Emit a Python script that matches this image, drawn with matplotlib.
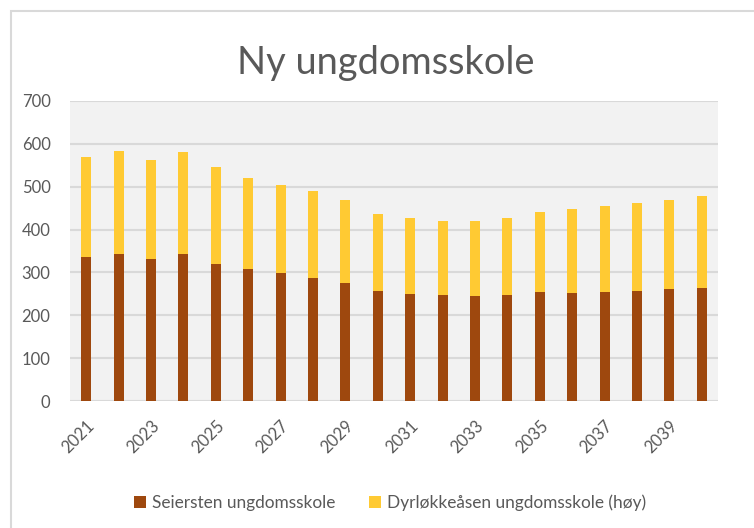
import matplotlib.pyplot as plt
from matplotlib.patches import Rectangle

plt.rcParams['font.family'] = ['Lato', 'DejaVu Sans']

# data
years = list(range(2021, 2041))
seiersten = [336, 343, 331, 343, 319, 307, 298, 286, 275, 256,
             249, 247, 244, 247, 254, 251, 254, 256, 261, 263]
totals = [569, 583, 562, 581, 546, 521, 505, 489, 470, 437,
          427, 421, 420, 428, 441, 447, 456, 463, 470, 479]
dyrlokkeasen = [t - s for t, s in zip(totals, seiersten)]

labels = ['Seiersten ungdomsskole', 'Dyrløkkeåsen ungdomsskole (høy)']
brown = '#9E480E'
yellow = '#FFCA33'
grey_txt = '#595959'
grid_c = '#D9D9D9'

W, H = 754, 528
fig = plt.figure(figsize=(W / 100, H / 100), dpi=100)
fig.patch.set_facecolor('white')

# chart border (only top/left visible in the screenshot)
fig.patches.append(Rectangle((11 / W, -0.1), 1.2, 1 - 11 / H + 0.1,
                             transform=fig.transFigure, fill=False,
                             edgecolor=grid_c, linewidth=1.5))

ax = fig.add_axes([70 / W, (H - 401) / H, 648 / W, 300 / H])
ax.set_facecolor('#F2F2F2')

x = range(len(years))
ax.bar(x, seiersten, width=0.31, color=brown, label=labels[0], zorder=3)
ax.bar(x, dyrlokkeasen, width=0.31, bottom=seiersten, color=yellow,
       label=labels[1], zorder=3)

ax.set_xlim(-0.5, len(years) - 0.5)
ax.set_ylim(0, 700)
ax.set_yticks(range(0, 701, 100))
ax.grid(axis='y', color=grid_c, linewidth=1.5, zorder=0)
for s in ax.spines.values():
    s.set_visible(False)

ax.set_xticks(list(x)[::2])
ax.set_xticklabels([str(y) for y in years[::2]], rotation=45, ha='right',
                   rotation_mode='anchor')
ax.tick_params(axis='both', length=0, labelsize=12, labelcolor=grey_txt)
ax.tick_params(axis='y', pad=14)
ax.tick_params(axis='x', pad=12)

fig.text(386 / W, 1 - 63 / H, 'Ny ungdomsskole', ha='center', va='center',
         fontsize=27.4, color=grey_txt)

fig.legend(loc='center', bbox_to_anchor=(390 / W, 1 - 503 / H), ncol=2,
           frameon=False, fontsize=12.4, labelcolor=grey_txt,
           handlelength=0.7, handleheight=0.7, handletextpad=0.3,
           columnspacing=2.0)

fig.savefig('out.png', dpi=100)
